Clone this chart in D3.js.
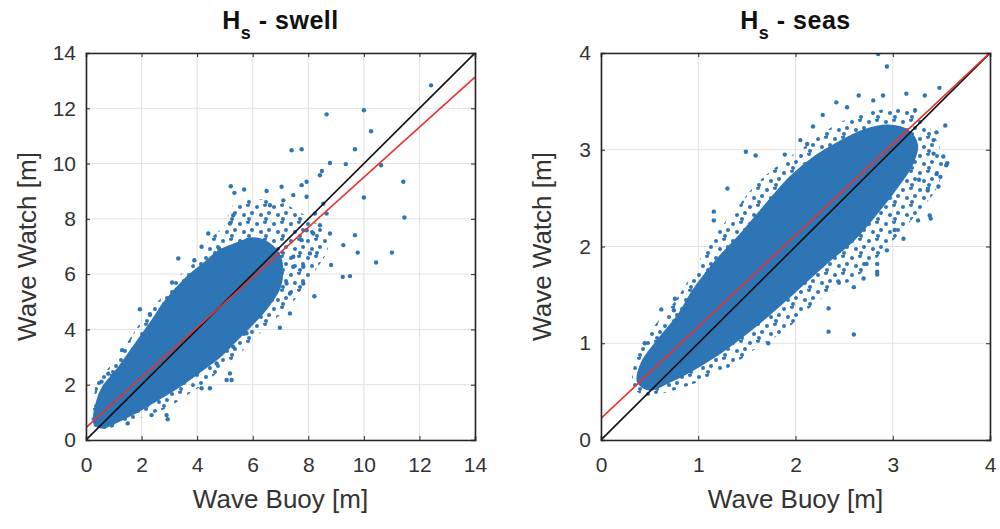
<!DOCTYPE html>
<html>
<head>
<meta charset="utf-8">
<script src="https://cdn.jsdelivr.net/npm/d3@7"></script>
<style>
  html, body { margin: 0; padding: 0; background: #fff; }
  svg { display: block; font-family: "Liberation Sans", Arial, sans-serif; }
</style>
</head>
<body>
<svg id="chart" width="1000" height="529"></svg>
<script>
// --- swell panel ---
const swellTicks = [0, 2, 4, 6, 8, 10, 12, 14];
const swellFit = [0.445, 0.906]; // intercept, slope of red regression line
// outline of the solid part of the point cloud
const swellCore = [
  [0.3, 0.6], [0.4, 1.4], [0.6, 1.9], [1.2, 2.65], [1.8, 3.5], [2.4, 4.35], [2.8, 4.95],
  [3.6, 5.85], [4.2, 6.35], [4.8, 6.85], [5.4, 7.1], [6.0, 7.3], [6.6, 7.1], [7.0, 6.6],
  [7.0, 5.6], [6.6, 4.9], [6.0, 4.2], [5.4, 3.6], [4.8, 3.0], [4.0, 2.4], [3.3, 1.9],
  [2.4, 1.35], [1.8, 1.0], [1.1, 0.65], [0.6, 0.45]
];
// outline of the speckled fringe around it
const swellFringe = [
  [0.25, 0.55], [0.3, 1.5], [0.4, 2.2], [0.8, 2.6], [1.2, 3.1], [1.6, 3.7], [2.0, 4.3],
  [2.5, 4.9], [3.0, 5.5], [3.5, 6.1], [4.0, 6.5], [4.4, 7.2], [5.0, 7.8], [5.3, 8.5],
  [5.8, 8.7], [6.4, 8.7], [7.0, 8.6], [7.6, 8.3], [8.2, 7.9], [8.6, 7.5], [8.7, 6.9],
  [8.3, 6.2], [7.8, 5.5], [7.3, 4.8], [6.6, 4.2], [6.0, 3.6], [5.4, 3.0], [4.8, 2.5],
  [4.2, 2.0], [3.6, 1.6], [3.0, 1.2], [2.4, 0.95], [1.8, 0.75], [1.2, 0.55], [0.7, 0.4]
];
// single scattered points
const swellPoints = [
  [12.42, 12.83], [10.0, 11.93], [8.66, 11.78], [10.26, 11.17], [7.40, 10.48], [7.76, 10.52],
  [9.68, 10.52], [8.78, 10.02], [9.35, 9.98], [10.62, 9.94], [10.0, 8.77], [11.42, 9.34],
  [11.46, 8.05], [9.68, 7.41], [9.26, 7.05], [9.78, 6.78], [11.01, 6.78], [10.44, 6.42],
  [8.82, 6.33], [9.24, 5.90], [9.50, 5.93], [8.22, 5.20], [6.98, 4.06], [7.34, 4.58],
  [5.21, 9.18], [5.34, 8.94], [5.69, 9.06], [5.30, 8.13], [5.18, 7.83], [4.40, 7.47],
  [4.79, 6.93], [3.32, 6.57], [4.16, 6.99], [6.5, 9.01], [7.04, 9.16], [6.62, 8.49],
  [7.10, 8.67], [7.46, 8.86], [7.76, 9.22], [7.94, 8.80], [8.24, 8.19], [8.54, 8.55],
  [8.66, 8.19], [8.18, 7.47], [8.78, 7.47], [8.42, 7.77], [7.94, 7.59], [7.76, 7.23],
  [7.46, 6.63], [8.06, 6.75], [7.82, 6.27], [7.46, 6.27], [7.22, 5.66], [7.82, 5.66],
  [7.34, 5.30], [6.68, 5.06], [6.26, 4.82], [8.49, 9.73], [8.42, 9.58], [7.94, 9.34],
  [5.78, 3.86], [5.30, 3.37], [5.06, 2.17], [5.24, 2.17], [4.46, 1.87], [4.16, 1.87],
  [5.18, 2.41], [4.70, 2.77], [2.90, 0.90], [2.36, 0.90], [0.56, 2.11], [1.94, 4.73],
  [2.94, 0.75], [1.5, 0.6], [0.8, 2.4], [1.3, 3.25], [2.3, 4.55], [3.1, 5.7], [3.9, 6.5]
];

// --- seas panel ---
const seasTicks = [0, 1, 2, 3, 4];
const seasFit = [0.224, 0.945];
const seasCore = [
  [0.38, 0.6], [0.42, 0.8], [0.6, 1.05], [0.8, 1.3], [0.95, 1.55], [1.19, 1.86], [1.43, 2.12],
  [1.71, 2.45], [1.95, 2.72], [2.2, 2.93], [2.45, 3.08], [2.7, 3.2], [2.95, 3.25], [3.15, 3.2],
  [3.25, 3.05], [3.2, 2.85], [3.05, 2.62], [2.85, 2.36], [2.6, 2.07], [2.32, 1.83], [1.98, 1.52],
  [1.64, 1.22], [1.4, 1.03], [1.15, 0.85], [0.9, 0.7], [0.7, 0.6], [0.5, 0.52]
];
const seasFringe = [
  [0.33, 0.55], [0.36, 0.85], [0.55, 1.18], [0.75, 1.42], [0.95, 1.74], [1.12, 2.05], [1.4, 2.4],
  [1.6, 2.65], [1.85, 2.86], [2.12, 3.05], [2.4, 3.25], [2.7, 3.38], [3.0, 3.42], [3.25, 3.38],
  [3.45, 3.1], [3.52, 2.85], [3.45, 2.6], [3.25, 2.34], [3.01, 2.07], [2.67, 1.72], [2.22, 1.43],
  [1.9, 1.14], [1.6, 0.95], [1.3, 0.74], [1.0, 0.6], [0.7, 0.5], [0.45, 0.46]
];
const seasPoints = [
  [2.85, 3.99], [2.94, 3.86], [2.42, 3.49], [2.53, 3.44], [2.65, 3.56], [2.80, 3.51], [2.90, 3.56],
  [3.14, 3.58], [3.33, 3.56], [3.48, 3.64], [3.23, 3.41], [2.28, 3.36], [2.18, 3.24], [2.05, 3.10],
  [1.89, 2.95], [2.12, 3.06], [1.49, 2.98], [1.59, 2.94], [1.16, 2.36], [1.16, 2.27], [0.76, 1.46],
  [0.75, 1.34], [3.54, 3.25], [3.45, 3.18], [3.42, 3.10], [3.42, 2.96], [3.52, 2.93], [3.55, 2.84],
  [3.45, 2.75], [3.47, 2.62], [3.36, 2.58], [3.27, 2.69], [3.38, 2.32], [3.26, 2.27], [3.11, 2.08],
  [3.02, 2.17], [2.94, 1.96], [2.84, 1.82], [2.73, 1.82], [2.84, 1.74], [2.70, 1.67], [2.60, 1.58],
  [2.44, 1.64], [2.34, 1.36], [2.34, 1.12], [2.60, 1.09], [1.72, 1.0], [2.84, 1.71], [3.39, 2.29],
  [1.3, 2.6], [0.62, 1.35], [0.45, 1.0], [3.56, 2.86], [3.49, 2.72]
];

const BLUE = '#2e75b6';
const svg = d3.select('#chart');

// speckle texture used for the sparse fringe of each cloud
const pat = svg.append('defs').append('pattern').attr('id', 'speckle')
  .attr('patternUnits', 'userSpaceOnUse').attr('width', 17).attr('height', 17);
[[2, 3], [10, 1], [14, 9], [6, 11], [11, 15]].forEach(([cx, cy]) =>
  pat.append('circle').attr('cx', cx).attr('cy', cy).attr('r', 2).attr('fill', BLUE));

function drawPanel(opts) {
  const { left, right, top, bottom, max, ticks, core, fringe, points, fit, title, id } = opts;
  const x = d3.scaleLinear().domain([0, max]).range([left, right]);
  const y = d3.scaleLinear().domain([0, max]).range([bottom, top]);
  const g = svg.append('g');
  const outline = d3.line().x(d => x(d[0])).y(d => y(d[1])).curve(d3.curveCatmullRomClosed);

  g.append('clipPath').attr('id', id).append('rect')
    .attr('x', left).attr('y', top).attr('width', right - left).attr('height', bottom - top);

  // grid
  g.selectAll('.gx').data(ticks).join('line')
    .attr('x1', d => x(d)).attr('x2', d => x(d)).attr('y1', top).attr('y2', bottom)
    .attr('stroke', '#e1e1e1').attr('stroke-width', 1);
  g.selectAll('.gy').data(ticks).join('line')
    .attr('y1', d => y(d)).attr('y2', d => y(d)).attr('x1', left).attr('x2', right)
    .attr('stroke', '#e1e1e1').attr('stroke-width', 1);

  const plot = g.append('g').attr('clip-path', `url(#${id})`);
  plot.append('path').attr('d', outline(fringe)).attr('fill', 'url(#speckle)');
  plot.append('path').attr('d', outline(core)).attr('fill', BLUE).attr('stroke', BLUE).attr('stroke-width', 2);
  plot.selectAll('circle').data(points).join('circle')
    .attr('cx', d => x(d[0])).attr('cy', d => y(d[1])).attr('r', 2.2).attr('fill', BLUE);

  plot.append('line')
    .attr('x1', x(0)).attr('y1', y(0)).attr('x2', x(max)).attr('y2', y(max))
    .attr('stroke', '#111').attr('stroke-width', 1.6);
  plot.append('line')
    .attr('x1', x(0)).attr('y1', y(fit[0])).attr('x2', x(max)).attr('y2', y(fit[0] + fit[1] * max))
    .attr('stroke', '#e8332e').attr('stroke-width', 1.6);

  // axes (MATLAB style: inward ticks, box on)
  const fmt = d3.format('d');
  const axX = g.append('g').attr('transform', `translate(0,${bottom})`)
    .call(d3.axisBottom(x).tickValues(ticks).tickSize(-4).tickPadding(17).tickFormat(fmt));
  const axXt = g.append('g').attr('transform', `translate(0,${top})`)
    .call(d3.axisTop(x).tickValues(ticks).tickSize(-4).tickFormat(''));
  const axY = g.append('g').attr('transform', `translate(${left},0)`)
    .call(d3.axisLeft(y).tickValues(ticks).tickSize(-4).tickPadding(10).tickFormat(fmt));
  const axYr = g.append('g').attr('transform', `translate(${right},0)`)
    .call(d3.axisRight(y).tickValues(ticks).tickSize(-4).tickFormat(''));
  [axX, axXt, axY, axYr].forEach(a => {
    a.select('.domain').attr('stroke', '#262626').attr('stroke-width', 1.6);
    a.selectAll('.tick line').attr('stroke', '#262626');
    a.selectAll('.tick text').attr('fill', '#333').style('font-size', '21px');
  });

  // labels
  g.append('text').attr('x', (left + right) / 2).attr('y', 508)
    .attr('text-anchor', 'middle').attr('fill', '#333').style('font-size', '26px')
    .text('Wave Buoy [m]');
  g.append('text')
    .attr('transform', `translate(${left - 50},${(top + bottom) / 2}) rotate(-90)`)
    .attr('text-anchor', 'middle').attr('fill', '#333').style('font-size', '26px')
    .text('Wave Watch [m]');

  const t = g.append('text').attr('x', (left + right) / 2).attr('y', 29)
    .attr('text-anchor', 'middle').attr('fill', '#111')
    .style('font-size', '25px').style('font-weight', 'bold').style('letter-spacing', '0.5px');
  t.append('tspan').text('H');
  t.append('tspan').attr('dy', 10).style('font-size', '18px').text('s');
  t.append('tspan').attr('dy', -10).text(' - ' + title);
}

drawPanel({ id: 'clipL', left: 86, right: 475, top: 53, bottom: 440, max: 14,
  ticks: swellTicks, core: swellCore, fringe: swellFringe, points: swellPoints, fit: swellFit, title: 'swell' });
drawPanel({ id: 'clipR', left: 601, right: 990, top: 53, bottom: 440, max: 4,
  ticks: seasTicks, core: seasCore, fringe: seasFringe, points: seasPoints, fit: seasFit, title: 'seas' });
</script>
</body>
</html>
